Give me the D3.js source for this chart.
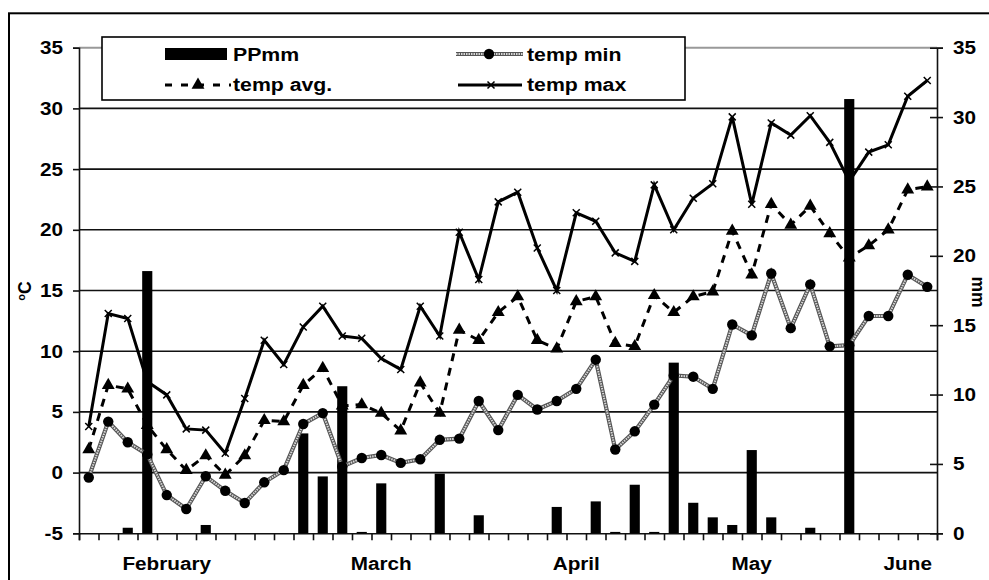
<!DOCTYPE html>
<html><head><meta charset="utf-8">
<script src="https://cdn.jsdelivr.net/npm/d3@7"></script>
<style>
html,body{margin:0;padding:0;background:#fff;}
svg{display:block;font-family:"Liberation Sans",Arial,sans-serif;font-weight:bold;}
</style></head>
<body>
<svg id="c" width="989" height="580"></svg>
<script>
// ---- data ----
const categories = ["","","","","February","","","","","","","","","","","March","","","","","","","","","","April","","","","","","","","","May","","","","","","","","June",""];
const ppmm = [0,0,0.4,18.9,0,0,0.6,0,0,0,0,7.2,4.1,10.6,0.1,3.6,0,0,4.3,0,1.3,0,0,0,1.9,0,2.3,0.1,3.5,0.1,12.3,2.2,1.15,0.6,6.0,1.15,0,0.4,0,31.3,0,0,0,0];
const tempMin = [-0.4,4.2,2.5,1.5,-1.85,-3.0,-0.3,-1.5,-2.5,-0.8,0.2,4.0,4.9,0.5,1.2,1.45,0.8,1.1,2.7,2.8,5.9,3.5,6.4,5.2,5.9,6.9,9.3,1.9,3.4,5.6,8.0,7.9,6.9,12.2,11.3,16.4,11.9,15.5,10.4,10.5,12.9,12.9,16.3,15.3];
const tempAvg = [1.9,7.2,6.9,3.9,1.9,0.2,1.4,-0.2,1.4,4.3,4.2,7.2,8.6,5.5,5.6,4.9,3.45,7.4,4.9,11.75,10.9,13.2,14.5,10.9,10.2,14.1,14.5,10.65,10.4,14.6,13.2,14.5,14.9,19.9,16.3,22.1,20.4,21.96,19.7,17.7,18.7,20.0,23.3,23.55];
const tempMax = [3.8,13.1,12.7,7.5,6.4,3.6,3.5,1.6,6.1,10.9,8.9,12.0,13.7,11.25,11.06,9.4,8.5,13.7,11.25,19.8,15.9,22.3,23.1,18.5,15.0,21.4,20.7,18.1,17.4,23.7,20.0,22.6,23.8,29.3,22.1,28.8,27.8,29.4,27.2,24.0,26.4,27.0,31.0,32.3];
const leftTicks = [-5,0,5,10,15,20,25,30,35];
const rightTicks = [0,5,10,15,20,25,30,35];
const seriesNames = ["PPmm","temp min","temp avg.","temp max"];

// ---- layout ----
const L = 79, R = 937, T = 47.7, B = 533.3;
const SX = 1.12, FS = 18.5;
const svg = d3.select("#c");
const idx = d3.range(categories.length);
const x = d3.scaleBand().domain(idx).range([L, R]).padding(0);
const xTick = d3.scaleLinear().domain([0, categories.length]).range([L, R]);
const yL = d3.scaleLinear().domain([-5, 35]).range([B, T]);
const yR = d3.scaleLinear().domain([0, 35]).range([B, T]);
const cx = i => x(i) + x.bandwidth() / 2;
const fmt = d => String(d);

// outer border
svg.append("rect").attr("x", 9).attr("y", 13.3).attr("width", 990).attr("height", 600)
  .attr("fill", "none").attr("stroke", "#000").attr("stroke-width", 2);

// gridlines
svg.append("g").selectAll("line").data(leftTicks.filter(v => v > -5 && v < 35)).join("line")
  .attr("x1", L).attr("x2", R).attr("y1", d => yL(d)).attr("y2", d => yL(d))
  .attr("stroke", "#111").attr("stroke-width", 1.6);
svg.append("line").attr("x1", L).attr("x2", R).attr("y1", yL(35)).attr("y2", yL(35))
  .attr("stroke", "#999").attr("stroke-width", 2);

// left axis
const gl = svg.append("g").attr("transform", `translate(${L},0)`)
  .call(d3.axisLeft(yL).tickValues(leftTicks).tickSize(6).tickPadding(0).tickFormat(fmt));
gl.select(".domain").attr("stroke", "#111").attr("stroke-width", 1.6);
gl.selectAll(".tick line").attr("stroke", "#111").attr("stroke-width", 1.6);
gl.selectAll(".tick text").attr("x", -16 / SX).attr("transform", `scale(${SX},1)`)
  .attr("font-size", FS).attr("font-family", "Liberation Sans, Arial").attr("font-weight", "bold").attr("fill", "#000");

// right axis
const gr = svg.append("g").attr("transform", `translate(${R},0)`)
  .call(d3.axisRight(yR).tickValues(rightTicks).tickSize(6).tickPadding(0).tickFormat(fmt));
gr.select(".domain").attr("stroke", "#111").attr("stroke-width", 1.6);
gr.selectAll(".tick line").attr("x1", -7).attr("stroke", "#111").attr("stroke-width", 1.6);
gr.selectAll(".tick text").attr("x", 16 / SX).attr("transform", `scale(${SX},1)`)
  .attr("font-size", FS).attr("font-family", "Liberation Sans, Arial").attr("font-weight", "bold").attr("fill", "#000");

// bottom axis
const gb = svg.append("g").attr("transform", `translate(0,${B})`)
  .call(d3.axisBottom(xTick).tickValues(d3.range(categories.length + 1)).tickSize(7).tickFormat(""));
gb.select(".domain").attr("stroke", "#111").attr("stroke-width", 1.6);
gb.selectAll(".tick line").attr("stroke", "#111").attr("stroke-width", 1.6);
svg.append("g").selectAll("text").data(idx.filter(i => categories[i] !== "")).join("text")
  .attr("transform", i => `translate(${cx(i)},570) scale(${SX},1)`)
  .attr("text-anchor", "middle").attr("font-size", FS).text(i => categories[i]);

// axis titles
const t1 = svg.append("text").attr("transform", `translate(31,291) rotate(-90)`)
  .attr("text-anchor", "middle").attr("font-size", FS - 1);
t1.append("tspan").attr("font-size", 11).attr("dy", -6).text("o");
t1.append("tspan").attr("dy", 6).text("C");
svg.append("text").attr("transform", `translate(972,292) rotate(90)`)
  .attr("text-anchor", "middle").attr("font-size", FS - 1).text("mm");

// lines
const lineL = d3.line().x((d, i) => cx(i)).y(d => yL(d));
// temp max
svg.append("path").datum(tempMax).attr("d", lineL).attr("fill", "none")
  .attr("stroke", "#000").attr("stroke-width", 3).attr("stroke-linejoin", "miter");
const xMark = "M-3.5,-3.5L3.5,3.5M-3.5,3.5L3.5,-3.5";
svg.append("g").selectAll("path").data(tempMax).join("path")
  .attr("transform", (d, i) => `translate(${cx(i)},${yL(d)})`).attr("d", xMark)
  .attr("stroke", "#000").attr("stroke-width", 1.5).attr("fill", "none");
// temp avg
svg.append("path").datum(tempAvg).attr("d", lineL).attr("fill", "none")
  .attr("stroke", "#000").attr("stroke-width", 3).attr("stroke-dasharray", "8,7");
const tri = d3.symbol(d3.symbolTriangle, 72)();
svg.append("g").selectAll("path").data(tempAvg).join("path")
  .attr("transform", (d, i) => `translate(${cx(i)},${yL(d)})`).attr("d", tri).attr("fill", "#000");

// bars
const bw = x.bandwidth() * 0.52;
svg.append("g").selectAll("rect").data(ppmm).join("rect")
  .attr("x", (d, i) => cx(i) - bw / 2).attr("width", bw)
  .attr("y", d => yR(d)).attr("height", d => B - yR(d)).attr("fill", "#000");

// temp min
svg.append("path").datum(tempMin).attr("d", lineL).attr("fill", "none")
  .attr("stroke", "#555").attr("stroke-width", 4.2);
svg.append("path").datum(tempMin).attr("d", lineL).attr("fill", "none")
  .attr("stroke", "#d8d8d8").attr("stroke-width", 2).attr("stroke-dasharray", "1.5,1");
svg.append("g").selectAll("circle").data(tempMin).join("circle")
  .attr("cx", (d, i) => cx(i)).attr("cy", d => yL(d)).attr("r", 5.2).attr("fill", "#000");

// legend
const lg = svg.append("g");
lg.append("rect").attr("x", 102).attr("y", 37).attr("width", 583).attr("height", 63)
  .attr("fill", "#fff").attr("stroke", "#000").attr("stroke-width", 1.6);
lg.append("rect").attr("x", 165).attr("y", 48).attr("width", 62).attr("height", 12).attr("fill", "#000");
lg.append("line").attr("x1", 165).attr("x2", 231).attr("y1", 85).attr("y2", 85)
  .attr("stroke", "#000").attr("stroke-width", 3).attr("stroke-dasharray", "7,9");
lg.append("path").attr("d", tri).attr("transform", "translate(198,85)");
lg.append("line").attr("x1", 456).attr("x2", 523).attr("y1", 54).attr("y2", 54)
  .attr("stroke", "#555").attr("stroke-width", 4.2);
lg.append("line").attr("x1", 456).attr("x2", 523).attr("y1", 54).attr("y2", 54)
  .attr("stroke", "#d8d8d8").attr("stroke-width", 2).attr("stroke-dasharray", "1.5,1");
lg.append("circle").attr("cx", 489).attr("cy", 54).attr("r", 5.2);
lg.append("line").attr("x1", 458).attr("x2", 522).attr("y1", 85).attr("y2", 85)
  .attr("stroke", "#000").attr("stroke-width", 3);
lg.append("path").attr("d", xMark).attr("transform", "translate(491,85)")
  .attr("stroke", "#000").attr("stroke-width", 1.5);
const legPos = [[233, 61], [527, 61], [233, 91], [527, 91]];
lg.selectAll("text.l").data(seriesNames).join("text").attr("class", "l")
  .attr("transform", (d, i) => `translate(${legPos[i][0]},${legPos[i][1]}) scale(${SX + 0.03},1)`)
  .attr("font-size", FS).text(d => d);
</script>
</body></html>
